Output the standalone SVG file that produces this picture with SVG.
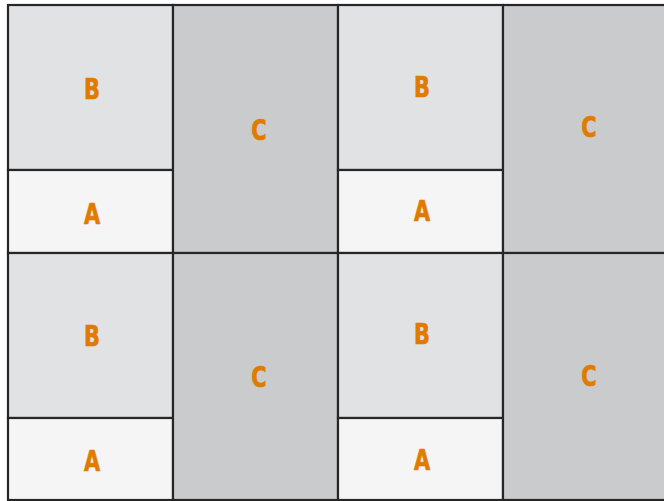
<svg xmlns="http://www.w3.org/2000/svg" width="664" height="501" viewBox="0 0 664 501">
<style>
.b{fill:#e1e2e4;stroke:#262626;stroke-width:2.2}
.a{fill:#f5f5f5;stroke:#262626;stroke-width:2.2}
.c{fill:#cacbcd;stroke:#262626;stroke-width:2.2}
text{font-family:"DejaVu Sans Condensed","DejaVu Sans",sans-serif;font-stretch:condensed;font-weight:bold;font-size:29px;fill:#e07b00;stroke:#e07b00;stroke-width:0.7;text-anchor:middle}
</style>
<rect width="664" height="501" fill="#ffffff"/>
<g id="b1"><rect class="b" x="8" y="5" width="165" height="165"/><text transform="translate(92,99) scale(0.8,1)">B</text></g>
<g id="a1"><rect class="a" x="8" y="170" width="165" height="83"/><text transform="translate(92,224) scale(0.8,1)">A</text></g>
<g id="c1"><rect class="c" x="173" y="5" width="165" height="248"/><text transform="translate(259,140) scale(0.8,1)">C</text></g>
<g id="b2"><rect class="b" x="338" y="5" width="165" height="165"/><text transform="translate(422,97) scale(0.8,1)">B</text></g>
<g id="a2"><rect class="a" x="338" y="170" width="165" height="83"/><text transform="translate(422,221) scale(0.8,1)">A</text></g>
<g id="c2"><rect class="c" x="503" y="5" width="170" height="248"/><text transform="translate(589,137) scale(0.8,1)">C</text></g>
<g id="b3"><rect class="b" x="8" y="253" width="165" height="165"/><text transform="translate(92,346) scale(0.8,1)">B</text></g>
<g id="a3"><rect class="a" x="8" y="418" width="165" height="82"/><text transform="translate(92,471) scale(0.8,1)">A</text></g>
<g id="c3"><rect class="c" x="173" y="253" width="165" height="247"/><text transform="translate(259,387) scale(0.8,1)">C</text></g>
<g id="b4"><rect class="b" x="338" y="253" width="165" height="165"/><text transform="translate(422,344) scale(0.8,1)">B</text></g>
<g id="a4"><rect class="a" x="338" y="418" width="165" height="82"/><text transform="translate(422,470) scale(0.8,1)">A</text></g>
<g id="c4"><rect class="c" x="503" y="253" width="170" height="247"/><text transform="translate(589,386) scale(0.8,1)">C</text></g>
</svg>
